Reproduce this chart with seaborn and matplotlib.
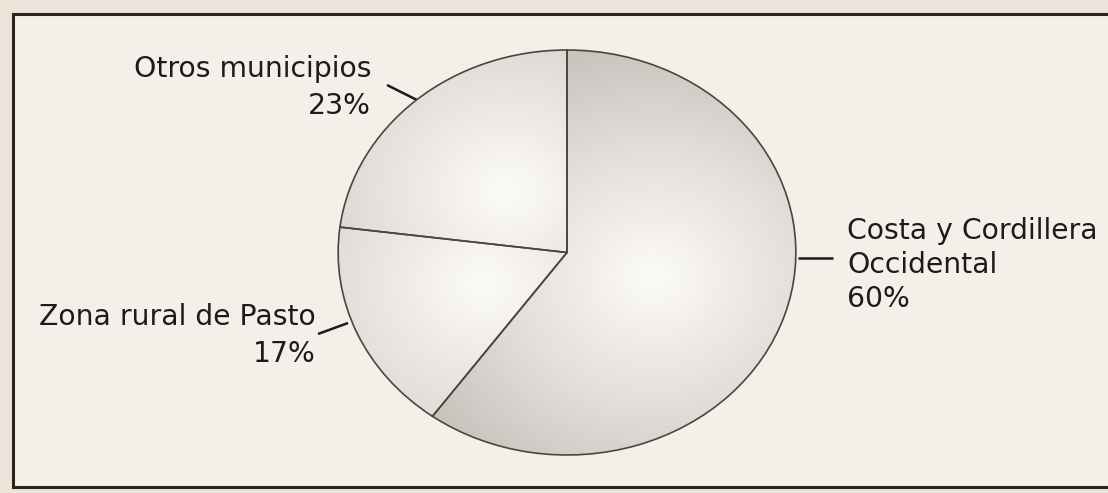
import matplotlib.pyplot as plt
import numpy as np
import seaborn as sns
from matplotlib.colors import LinearSegmentedColormap
from matplotlib.patches import Rectangle

# data
regiones = ["Costa y Cordillera\nOccidental", "Zona rural de Pasto", "Otros municipios"]
porcentajes = [60, 17, 23]

sns.set_theme(style="white")
plt.rcParams["font.family"] = ["DejaVu Sans"]

paper = "#ede4d9"
fig = plt.figure(figsize=(11.08, 4.93), dpi=100, facecolor=paper)

# overlay in pixel coordinates for frame, labels and leader lines
bg = fig.add_axes([0, 0, 1, 1])
bg.set_xlim(0, 1108)
bg.set_ylim(493, 0)
bg.axis("off")
bg.add_patch(Rectangle((13, 14), 1120, 473, facecolor="#f4efe8", edgecolor="#2b2520", lw=2.2))

# pie: elliptical because of the photo, so the axes aspect is left free
ax = fig.add_axes([337 / 1108, (493 - 456) / 493, 460 / 1108, 407 / 493])
wedges, _ = ax.pie(porcentajes, startangle=90, counterclock=False, radius=1,
                   colors=["#dedad5"] * 3,
                   wedgeprops=dict(edgecolor="#4f443c", linewidth=1.2))
ax.set_aspect("auto")
ax.axis("off")

# soft shading inside each slice, light near its middle, grey toward the rim
shade = LinearSegmentedColormap.from_list("shade", ["#fbf9f6", "#e4e0db", "#c9c4be"])
gx, gy = np.meshgrid(np.linspace(-1, 1, 300), np.linspace(-1, 1, 300))
for w in wedges:
    mid = np.deg2rad((w.theta1 + w.theta2) / 2)
    cx, cy = 0.4 * np.cos(mid), 0.4 * np.sin(mid)
    d = np.hypot(gx - cx, gy - cy)
    img = ax.imshow(d, cmap=shade, vmin=0.05, vmax=1.15, extent=(-1, 1, -1, 1),
                    origin="lower", aspect="auto", zorder=w.get_zorder() - 0.1)
    img.set_clip_path(w)
    w.set_facecolor("none")

ax.set_xlim(-1.005, 1.005)
ax.set_ylim(-1.005, 1.005)

fs = 20.3
txt = dict(fontsize=fs, color="#1e1a17")
bg.text(371, 77, "Otros municipios", ha="right", va="baseline", **txt)
bg.text(371, 114, f"{porcentajes[2]}%", ha="right", va="baseline", **txt)
bg.text(316, 325, "Zona rural de Pasto", ha="right", va="baseline", **txt)
bg.text(316, 362, f"{porcentajes[1]}%", ha="right", va="baseline", **txt)
bg.text(847, 239, "Costa y Cordillera", ha="left", va="baseline", **txt)
bg.text(847, 273, "Occidental", ha="left", va="baseline", **txt)
bg.text(847, 307, f"{porcentajes[0]}%", ha="left", va="baseline", **txt)

lk = dict(color="#1e1a17", lw=1.8, solid_capstyle="butt")
bg.plot([387, 425], [85, 104], **lk)
bg.plot([318, 348], [334, 323], **lk)
bg.plot([798, 833], [258, 258], **lk)

fig.savefig("out.png", dpi=100, facecolor=paper)
